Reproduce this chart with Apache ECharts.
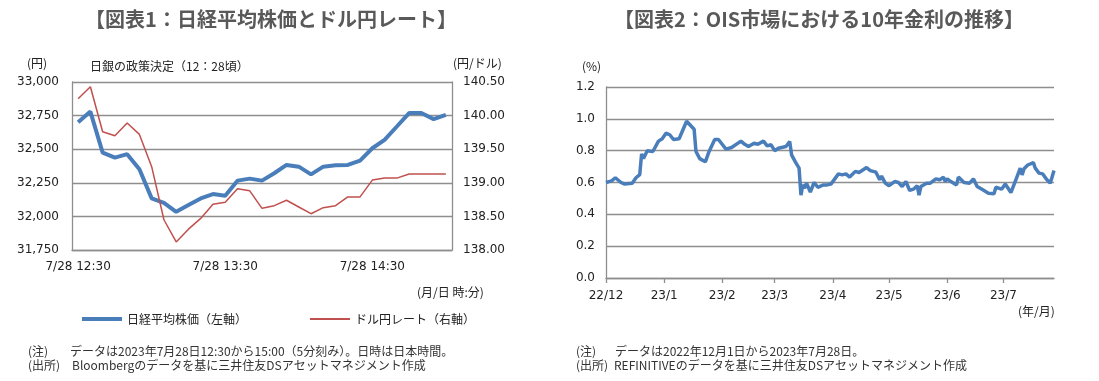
<!DOCTYPE html>
<html><head><meta charset="utf-8">
<script src="https://cdn.jsdelivr.net/npm/echarts@6/dist/echarts.min.js"></script>
<style>html,body{margin:0;padding:0;background:#fff;}#c{width:1099px;height:381px;}</style>
</head><body><div id="c"></div>
<script>
// ---- Chart 1 data ----
const times = ['12:30','12:35','12:40','12:45','12:50','12:55','13:00','13:05','13:10','13:15','13:20','13:25',
  '13:30','13:35','13:40','13:45','13:50','13:55','14:00','14:05','14:10','14:15','14:20','14:25',
  '14:30','14:35','14:40','14:45','14:50','14:55','15:00'];
const nikkei = [32700, 32780, 32475, 32437, 32463, 32351, 32134, 32101, 32034, 32084, 32134, 32166,
  32154, 32266, 32281, 32266, 32321, 32383, 32370, 32313, 32370, 32380, 32383, 32415,
  32507, 32570, 32669, 32769, 32769, 32724, 32756];
const usdjpy = [140.25, 140.43, 139.76, 139.70, 139.89, 139.72, 139.24, 138.45, 138.12, 138.31, 138.47, 138.68,
  138.71, 138.91, 138.88, 138.62, 138.66, 138.74, 138.64, 138.54, 138.63, 138.66, 138.79, 138.79,
  139.04, 139.07, 139.07, 139.13, 139.13, 139.13, 139.13];
const leftTicks = [31750, 32000, 32250, 32500, 32750, 33000];
const rightTicks = [138.0, 138.5, 139.0, 139.5, 140.0, 140.5];

// ---- Chart 2 data ----
const oisDates = ['2022-12-01','2022-12-04','2022-12-06','2022-12-09','2022-12-11','2022-12-15','2022-12-17','2022-12-19',
  '2022-12-20','2022-12-21','2022-12-23','2022-12-26','2022-12-29','2022-12-31','2023-01-02','2023-01-04','2023-01-06',
  '2023-01-09','2023-01-10','2023-01-13','2023-01-15','2023-01-17','2023-01-18','2023-01-20','2023-01-23','2023-01-25',
  '2023-01-28','2023-01-30','2023-02-03','2023-02-06','2023-02-11','2023-02-13','2023-02-15','2023-02-18','2023-02-20',
  '2023-02-23','2023-02-25','2023-02-27','2023-03-01','2023-03-03','2023-03-07','2023-03-09','2023-03-10','2023-03-12',
  '2023-03-14','2023-03-15','2023-03-16','2023-03-17','2023-03-18','2023-03-20','2023-03-22','2023-03-24','2023-03-27',
  '2023-03-29','2023-03-31','2023-04-04','2023-04-06','2023-04-08','2023-04-10','2023-04-13','2023-04-15','2023-04-19',
  '2023-04-21','2023-04-24','2023-04-26','2023-04-27','2023-04-29','2023-05-01','2023-05-04','2023-05-06','2023-05-08',
  '2023-05-10','2023-05-12','2023-05-14','2023-05-16','2023-05-17','2023-05-18','2023-05-21','2023-05-23','2023-05-26',
  '2023-05-28','2023-05-30','2023-05-31','2023-06-01','2023-06-03','2023-06-06','2023-06-07','2023-06-10','2023-06-13',
  '2023-06-15','2023-06-17','2023-06-20','2023-06-23','2023-06-26','2023-06-27','2023-06-30','2023-07-02','2023-07-05',
  '2023-07-08','2023-07-10','2023-07-11','2023-07-12','2023-07-14','2023-07-17','2023-07-18','2023-07-20','2023-07-22',
  '2023-07-24','2023-07-26','2023-07-28'];
const oisValues = [0.60,0.61,0.63,0.60,0.59,0.595,0.63,0.65,
  0.78,0.75,0.80,0.795,0.86,0.875,0.91,0.90,0.87,
  0.875,0.865,0.985,0.96,0.935,0.795,0.75,0.73,0.795,
  0.87,0.87,0.81,0.82,0.86,0.84,0.826,0.847,0.84,
  0.86,0.83,0.837,0.80,0.815,0.826,0.857,0.774,0.73,
  0.69,0.52,0.585,0.565,0.596,0.54,0.60,0.57,0.585,
  0.585,0.59,0.654,0.648,0.654,0.634,0.67,0.663,0.694,
  0.675,0.665,0.617,0.64,0.596,0.58,0.606,0.60,0.575,
  0.606,0.55,0.558,0.58,0.52,0.575,0.596,0.596,0.623,
  0.617,0.634,0.606,0.623,0.606,0.585,0.634,0.60,0.596,
  0.623,0.575,0.554,0.533,0.53,0.57,0.558,0.59,0.537,
  0.627,0.69,0.648,0.686,0.71,0.725,0.69,0.659,0.654,
  0.62,0.596,0.675];
const monthTicks = ['2022-12-01','2023-01-01','2023-02-01','2023-03-01','2023-04-01','2023-05-01','2023-06-01','2023-07-01'];
const oisTicks = [0, 0.2, 0.4, 0.6, 0.8, 1.0, 1.2];

const toTs = s => { const p = s.split('-').map(Number); return Date.UTC(p[0], p[1] - 1, p[2]); };
const oisData = oisDates.map((d, i) => [toTs(d), oisValues[i]]);
const monthTs = monthTicks.map(toTs);

const CJK = '"Noto Sans CJK JP", sans-serif';
const NUM = '"DejaVu Sans", "Noto Sans CJK JP", sans-serif';
const GRID = '#8e8e8e';
const TXT = '#222';
const BLUE = '#4a7ebb';
const RED = '#c0504d';

function txt(text, x, y, opt) {
  opt = opt || {};
  return { type: 'text', silent: true, style: {
    text: text, x: x, y: y, fill: opt.fill || TXT,
    font: opt.font || ('12px ' + CJK), align: opt.align || 'left', verticalAlign: 'middle'
  } };
}

const chart = echarts.init(document.getElementById('c'), null, { renderer: 'canvas' });
chart.setOption({
  animation: false,
  backgroundColor: '#fff',
  grid: [
    { left: 72, right: 1099 - 452, top: 82, bottom: 381 - 250, containLabel: false },
    { left: 606, right: 1099 - 1054, top: 87, bottom: 381 - 278, containLabel: false }
  ],
  legend: [
    { left: 77, top: 308, itemWidth: 40, itemHeight: 4, itemGap: 4, icon: 'rect', data: ['日経平均株価（左軸）'],
      textStyle: { fontFamily: CJK, fontSize: 12, color: TXT } },
    { left: 305, top: 308, itemWidth: 40, itemHeight: 2, itemGap: 2, icon: 'rect', data: ['ドル円レート（右軸）'],
      textStyle: { fontFamily: CJK, fontSize: 12, color: TXT } }
  ],
  xAxis: [
    { type: 'category', gridIndex: 0, data: times, boundaryGap: true,
      axisLine: { lineStyle: { color: GRID, width: 1.3 } },
      axisTick: { interval: 11, length: 5, inside: false, lineStyle: { color: GRID, width: 1.3 } },
      axisLabel: { interval: 11, margin: 11, color: TXT, fontFamily: NUM, fontSize: 12,
        formatter: v => '7/28 ' + v },
      splitLine: { show: false } },
    { type: 'value', gridIndex: 1, min: toTs('2022-12-01'), max: toTs('2023-07-28'),
      axisLine: { lineStyle: { color: GRID, width: 1.3 } },
      axisTick: { length: 5, lineStyle: { color: GRID, width: 1.3 }, customValues: monthTs },
      axisLabel: { margin: 12, color: TXT, fontFamily: NUM, fontSize: 12, customValues: monthTs,
        formatter: v => { const d = new Date(v); return (d.getUTCFullYear() % 100) + '/' + (d.getUTCMonth() + 1); } },
      splitLine: { show: false } }
  ],
  yAxis: [
    { type: 'value', gridIndex: 0, position: 'left', min: leftTicks[0], max: leftTicks[leftTicks.length - 1], interval: 250,
      axisLine: { show: true, lineStyle: { color: GRID, width: 1.3 } }, axisTick: { show: false },
      axisLabel: { margin: 13, color: TXT, fontFamily: NUM, fontSize: 12, formatter: v => v.toLocaleString('en-US') },
      splitLine: { lineStyle: { color: GRID, width: 1.3 } } },
    { type: 'value', gridIndex: 0, position: 'right', min: rightTicks[0], max: rightTicks[rightTicks.length - 1], interval: 0.5,
      axisLine: { show: true, lineStyle: { color: GRID, width: 1.3 } }, axisTick: { show: false },
      axisLabel: { margin: 11, color: TXT, fontFamily: NUM, fontSize: 12, formatter: v => v.toFixed(2) },
      splitLine: { show: false } },
    { type: 'value', gridIndex: 1, position: 'left', min: oisTicks[0], max: oisTicks[oisTicks.length - 1], interval: 0.2,
      axisLine: { show: true, lineStyle: { color: GRID, width: 1.3 } }, axisTick: { show: false },
      axisLabel: { margin: 11, color: TXT, fontFamily: NUM, fontSize: 12, formatter: v => v.toFixed(1) },
      splitLine: { lineStyle: { color: GRID, width: 1.3 } } }
  ],
  series: [
    { name: '日経平均株価（左軸）', type: 'line', xAxisIndex: 0, yAxisIndex: 0, data: nikkei,
      symbol: 'none', lineStyle: { color: BLUE, width: 4 }, itemStyle: { color: BLUE } },
    { name: 'ドル円レート（右軸）', type: 'line', xAxisIndex: 0, yAxisIndex: 1, data: usdjpy,
      symbol: 'none', lineStyle: { color: RED, width: 1.5 }, itemStyle: { color: RED } },
    { name: 'OIS10年', type: 'line', xAxisIndex: 1, yAxisIndex: 2, data: oisData,
      symbol: 'none', lineStyle: { color: BLUE, width: 3.5 }, itemStyle: { color: BLUE } }
  ],
  graphic: [
    txt('【図表1：日経平均株価とドル円レート】', 271, 19, { font: 'bold 20px ' + CJK, fill: '#595959', align: 'center' }),
    txt('【図表2：OIS市場における10年金利の推移】', 819, 19, { font: 'bold 20px ' + CJK, fill: '#595959', align: 'center' }),
    txt('(円)', 37, 63, { align: 'center' }),
    txt('日銀の政策決定（12：28頃）', 90, 66),
    txt('(円/ドル)', 453, 63),
    txt('(月/日 時:分)', 417, 292),
    txt('(%)', 582, 66),
    txt('(年/月)', 1018, 311),
    txt('(注)', 28, 351, { fill: '#333' }),
    txt('データは2023年7月28日12:30から15:00（5分刻み）。日時は日本時間。', 70, 351, { fill: '#333' }),
    txt('(出所)', 28, 365, { fill: '#333' }),
    txt('Bloombergのデータを基に三井住友DSアセットマネジメント作成', 72, 365, { fill: '#333' }),
    txt('(注)', 576, 351, { fill: '#333' }),
    txt('データは2022年12月1日から2023年7月28日。', 615, 351, { fill: '#333' }),
    txt('(出所)', 576, 365, { fill: '#333' }),
    txt('REFINITIVEのデータを基に三井住友DSアセットマネジメント作成', 614, 365, { fill: '#333' })
  ]
});
</script>
</body></html>
